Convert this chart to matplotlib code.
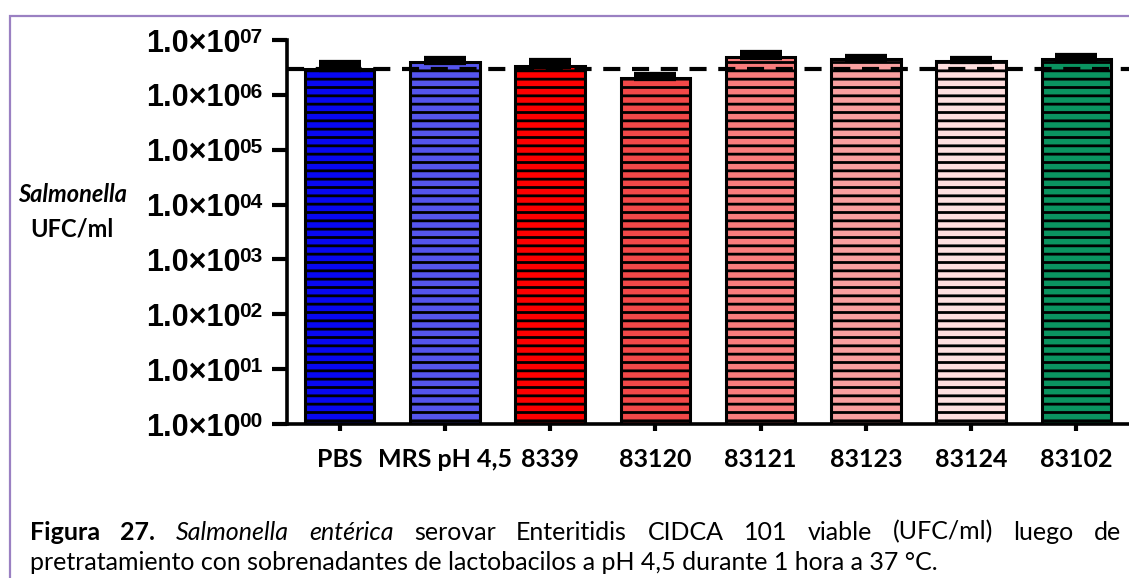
import numpy as np
import matplotlib
matplotlib.use("Agg")
import matplotlib.pyplot as plt
import matplotlib.transforms as mtransforms
from matplotlib.patches import Rectangle

# Viable Salmonella counts after pretreatment with lactobacilli supernatants
strains = ["PBS", "MRS pH 4,5", "8339", "83120", "83121", "83123", "83124", "83102"]
ufc = [3.0e6, 4.0e6, 3.4e6, 2.0e6, 4.9e6, 4.5e6, 4.1e6, 4.5e6]
ufc_err = [0.75e6, 0.5e6, 0.7e6, 0.26e6, 0.9e6, 0.45e6, 0.5e6, 0.55e6]
control_level = 3.0e6
bar_colors = ["#0808f0", "#5555ee", "#ff0000", "#f24848",
              "#f97c7c", "#f9a0a0", "#ffdede", "#0a9460"]
exponents = list(range(8))

caption_1 = [("Figura", "bold", "normal"), ("27.", "bold", "normal"),
             ("Salmonella", "normal", "italic"), ("entérica", "normal", "italic"),
             ("serovar", "normal", "normal"), ("Enteritidis", "normal", "normal"),
             ("CIDCA", "normal", "normal"), ("101", "normal", "normal"),
             ("viable", "normal", "normal"), ("(UFC/ml)", "normal", "normal"),
             ("luego", "normal", "normal"), ("de", "normal", "normal")]
caption_2 = "pretratamiento con sobrenadantes de lactobacilos a pH 4,5 durante 1 hora a 37 °C."

plt.rcParams["hatch.linewidth"] = 2.0

W, H = 1129, 578
fig = plt.figure(figsize=(W / 100, H / 100), dpi=100)
ax = fig.add_axes([287 / W, (H - 424) / H, 1 - 287 / W, (424 - 40) / H])

x = np.arange(len(strains))
ax.bar(x, ufc, width=0.66, color=bar_colors, edgecolor="black",
       linewidth=2.2, hatch="--", zorder=2)
ax.errorbar(x, ufc, yerr=[np.zeros(len(ufc)), ufc_err], fmt="none",
            ecolor="black", elinewidth=2.5, capsize=15, capthick=4.5, zorder=3)
ax.axhline(control_level, color="black", lw=3, dashes=(4.1, 2.8), zorder=4)

ax.set_yscale("log")
ax.set_ylim(1, 1e7)
ax.set_xlim(-0.5, 7.5)
ax.set_yticks([10.0 ** e for e in exponents])
ax.set_yticklabels(["1.0×10"] * len(exponents), fontsize=22,
                   fontweight="bold", family="Liberation Sans")
ax.yaxis.set_minor_locator(matplotlib.ticker.NullLocator())
ax.set_xticks(x)
ax.set_xticklabels(strains, fontsize=18, fontweight="bold", family="Lato")
ax.tick_params(axis="y", length=11, width=3, pad=22.5)
ax.tick_params(axis="x", length=5, width=3, pad=12)

# exponents of the y tick labels, raised beside the "10"
raise_exp = mtransforms.ScaledTranslation(0, 0.12, fig.dpi_scale_trans)
for e in exponents:
    ax.text(-25 / 842, 10.0 ** e, "%02d" % e, ha="right", va="top",
            fontsize=15, fontweight="bold", family="Liberation Sans",
            transform=ax.get_yaxis_transform() + raise_exp, clip_on=False)

for side in ["top", "right"]:
    ax.spines[side].set_visible(False)
for side in ["left", "bottom"]:
    ax.spines[side].set_linewidth(2.6)

fig.text(72 / W, 1 - 195 / H, "Salmonella", ha="center", va="center",
         fontsize=17, fontweight="bold", style="italic", family="Lato")
fig.text(72 / W, 1 - 229 / H, "UFC/ml", ha="center", va="center",
         fontsize=17, fontweight="bold", family="Lato")

# frame around the figure block
fig.patches.append(Rectangle((10 / W, -0.1), 1.2, 1 - 16 / H + 0.1,
                             transform=fig.transFigure, fill=False,
                             edgecolor="#9a80c2", lw=1.6))

# justified first caption line
renderer = fig.canvas.get_renderer()
words = [fig.text(0, 1 - 532 / H, w, fontsize=18, fontweight=wt, style=st,
                  family="Lato", va="center") for w, wt, st in caption_1]
widths = [t.get_window_extent(renderer).width for t in words]
x0, x1 = 30, 1121
gap = (x1 - x0 - sum(widths)) / (len(words) - 1)
pos = x0
for t, w in zip(words, widths):
    t.set_x(pos / W)
    pos += w + gap
fig.text(30 / W, 1 - 563 / H, caption_2, fontsize=18, family="Lato", va="center")

fig.savefig("out.png", dpi=100)
